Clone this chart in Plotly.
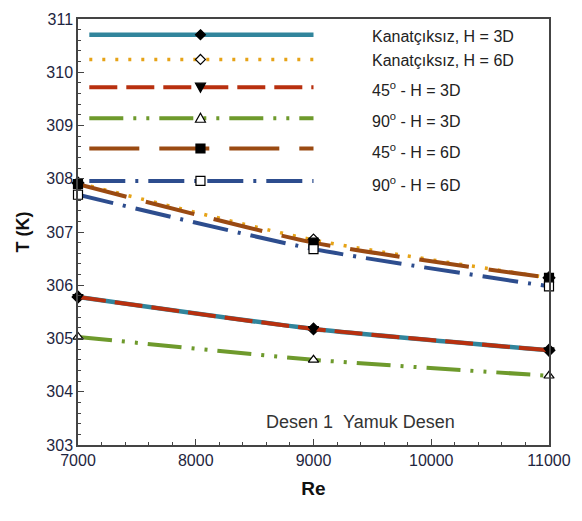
import plotly.graph_objects as go

# ---------------- data ----------------
re_vals = [7000, 9000, 11000]
names = ["Kanatçıksız, H = 3D", "Kanatçıksız, H = 6D", "45<sup>o</sup> - H = 3D",
         "90<sup>o</sup> - H = 3D", "45<sup>o</sup> - H = 6D", "90<sup>o</sup> - H = 6D"]
t_kanatciksiz_3d = [305.78, 305.18, 304.78]
t_kanatciksiz_6d = [307.92, 306.85, 306.14]
t_45_3d = [305.78, 305.18, 304.78]
t_90_3d = [305.03, 304.60, 304.30]
t_45_6d = [307.90, 306.80, 306.14]
t_90_6d = [307.70, 306.68, 305.98]
y_ticks = [303, 304, 305, 306, 307, 308, 309, 310, 311]
x_ticks = [7000, 8000, 9000, 10000, 11000]
x_tick_labels = ["7000", "8000", "9000", "10000", "11000"]

series = [t_kanatciksiz_3d, t_kanatciksiz_6d, t_45_3d, t_90_3d, t_45_6d, t_90_6d]

# ---------------- styles ----------------
colors = ["#31859C", "#E6A317", "#B8300F", "#6E9A2C", "#9A4A12", "#2D4D8E"]
dashes = ["solid", "3px,10px", "28px,9px", "34px,10px,3px,10px,3px,10px",
          "50px,20px", "36px,10px,3px,10px"]
widths = [4.5, 3.5, 4, 4, 4, 4]
symbols = ["diamond", "diamond", "triangle-down", "triangle-up", "square", "square"]
fills = ["black", "white", "black", "white", "black", "white"]

fig = go.Figure()
for vals, c, d, w, s, f in zip(series, colors, dashes, widths, symbols, fills):
    fig.add_trace(go.Scatter(
        x=re_vals, y=vals, mode="lines+markers",
        line=dict(color=c, dash=d, width=w, shape="spline", smoothing=0.6),
        marker=dict(symbol=s, size=9, color=f,
                    line=dict(color="black", width=1.2)),
        showlegend=False, cliponaxis=False))

# ---------------- custom legend (layout decoration) ----------------
legend_rows_y = [0.963, 0.905, 0.840, 0.767, 0.696, 0.620]
text_rows_y = [0.960, 0.903, 0.835, 0.762, 0.689, 0.613]
marker_paths = [
    "M0,5 L5,0 L0,-5 L-5,0 Z",      # diamond
    "M0,5 L5,0 L0,-5 L-5,0 Z",      # diamond open
    "M-5,4 L5,4 L0,-5 Z",           # triangle down (y up)
    "M-5,-4 L5,-4 L0,5 Z",          # triangle up
    "M-4.5,-4.5 L4.5,-4.5 L4.5,4.5 L-4.5,4.5 Z",
    "M-4.5,-4.5 L4.5,-4.5 L4.5,4.5 L-4.5,4.5 Z",
]
shapes = []
annotations = []
for i in range(6):
    shapes.append(dict(type="line", xref="paper", yref="paper",
                       x0=0.024, x1=0.50, y0=legend_rows_y[i], y1=legend_rows_y[i],
                       line=dict(color=colors[i], width=widths[i], dash=dashes[i])))
    shapes.append(dict(type="path", xref="paper", yref="paper",
                       xsizemode="pixel", ysizemode="pixel",
                       xanchor=0.260, yanchor=legend_rows_y[i],
                       path=marker_paths[i], fillcolor=fills[i],
                       line=dict(color="black", width=1.2)))
    annotations.append(dict(xref="paper", yref="paper", x=0.62, y=text_rows_y[i],
                            text=names[i], showarrow=False,
                            font=dict(family="Liberation Sans, Arial", size=16, color="#222"),
                            xanchor="left", yanchor="middle"))

annotations.append(dict(xref="paper", yref="paper", x=0.60, y=0.053,
                        text="Desen 1\u00a0\u00a0Yamuk Desen", showarrow=False,
                        font=dict(family="Liberation Sans, Arial", size=18, color="#333"),
                        xanchor="center", yanchor="middle"))

axis_common = dict(showline=True, linecolor="#444", linewidth=1.5, mirror=True,
                   ticks="inside", ticklen=6, tickwidth=1.3, tickcolor="#444",
                   showgrid=False, zeroline=False,
                   tickfont=dict(family="Liberation Sans, Arial", size=16, color="#1e2540"))

fig.update_layout(
    width=582, height=521,
    margin=dict(l=78, r=30, t=11, b=76),
    paper_bgcolor="white", plot_bgcolor="white",
    shapes=shapes, annotations=annotations,
    xaxis=dict(range=[7000, 11000], tickvals=x_ticks, ticktext=x_tick_labels,
               minor=dict(dtick=200, ticks="inside", ticklen=3, tickcolor="#444", tickwidth=1),
               title=dict(text="<b>Re</b>", standoff=14,
                          font=dict(family="Liberation Sans, Arial", size=19, color="#111")),
               **axis_common),
    yaxis=dict(range=[303, 311], tickvals=y_ticks,
               minor=dict(dtick=0.2, ticks="inside", ticklen=3, tickcolor="#444", tickwidth=1),
               title=dict(text="<b>T (K)</b>", standoff=12,
                          font=dict(family="Liberation Sans, Arial", size=18, color="#111")),
               **axis_common),
)

fig.write_html("out.html")
